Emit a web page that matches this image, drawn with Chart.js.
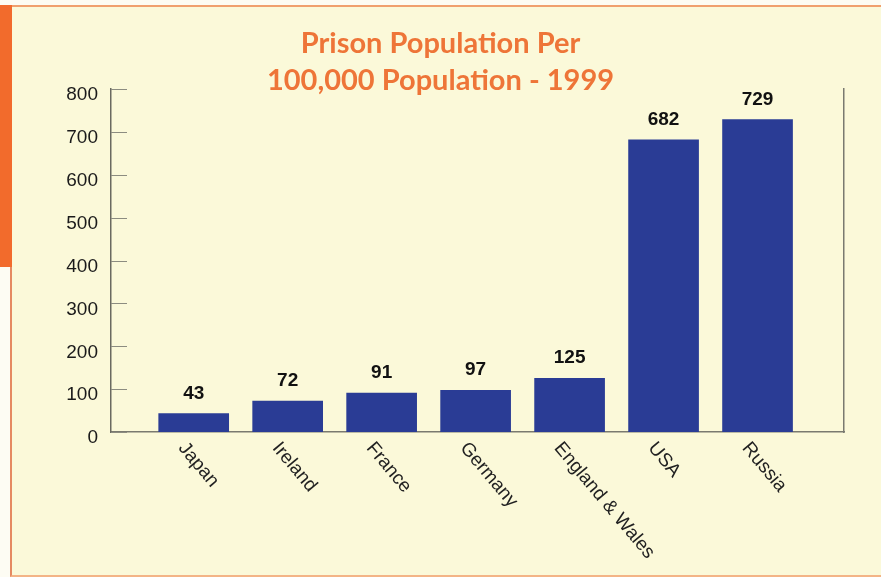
<!DOCTYPE html>
<html>
<head>
<meta charset="utf-8">
<title>Prison Population Per 100,000 Population - 1999</title>
<script src="https://cdn.jsdelivr.net/npm/chart.js@4"></script>
<style>
  html, body { margin: 0; padding: 0; background: #fdfcf3; }
  #frame { position: absolute; left: 10px; top: 5px; width: 871px; height: 572px;
           background: #fbf9d9; border-top: 2px solid #f0a06e; border-left: 2px solid #e58a62;
           border-bottom: 2px solid #f3b486; box-sizing: border-box; }
  #stripe { position: absolute; left: 0; top: 5px; width: 12px; height: 262px; background: #f26b2c; }
  #wrap { position: absolute; left: 0; top: 0; width: 881px; height: 577px; }
</style>
</head>
<body>
<div id="frame"></div>
<div id="stripe"></div>
<div id="wrap"><canvas id="mainChart" width="881" height="577"></canvas></div>
<script>
// prison population per 100,000, 1999
const categories = ['Japan', 'Ireland', 'France', 'Germany', 'England & Wales', 'USA', 'Russia'];
const prisonRates = [43, 72, 91, 97, 125, 682, 729];
const yMax = 800;
const yStep = 100;

const barColor = '#2a3c95';
const textFont = '"Liberation Sans", Arial, sans-serif';

// inner tick marks, value labels and slanted category names
const decorations = {
  id: 'decorations',
  afterDatasetsDraw(chart) {
    const ctx = chart.ctx;
    const y = chart.scales.y;
    const area = chart.chartArea;
    ctx.save();
    ctx.strokeStyle = '#8c8c80';
    ctx.lineWidth = 1;
    for (let v = 0; v <= yMax; v += yStep) {
      const py = Math.round(y.getPixelForValue(v)) + 0.5;
      ctx.beginPath();
      ctx.moveTo(area.left, py);
      ctx.lineTo(area.left + 16, py);
      ctx.stroke();
    }

    const meta = chart.getDatasetMeta(0);
    ctx.fillStyle = '#111';
    ctx.font = 'bold 19px ' + textFont;
    ctx.textAlign = 'center';
    ctx.textBaseline = 'alphabetic';
    meta.data.forEach((bar, i) => {
      ctx.fillText(String(prisonRates[i]), bar.x, bar.y - 15);
    });

    ctx.font = '19px ' + textFont;
    ctx.fillStyle = '#222';
    ctx.textAlign = 'left';
    ctx.textBaseline = 'middle';
    meta.data.forEach((bar, i) => {
      ctx.save();
      ctx.translate(bar.x - 12, area.bottom + 13);
      ctx.rotate(50 * Math.PI / 180);
      ctx.fillText(categories[i], 0, 0);
      ctx.restore();
    });
    ctx.restore();
  }
};

const ctx = document.getElementById('mainChart').getContext('2d');
window.prisonChart = new Chart(ctx, {
  type: 'bar',
  data: {
    datasets: [{
      data: prisonRates.map((v, i) => ({ x: i, y: v })),
      backgroundColor: barColor,
      barThickness: 70
    }]
  },
  options: {
    responsive: false,
    animation: false,
    layout: { padding: 0 },
    plugins: {
      legend: { display: false },
      tooltip: { enabled: false },
      title: {
        display: true,
        text: ['Prison Population Per', '100,000 Population - 1999'],
        color: '#ee7538',
        font: { family: 'Lato, "Open Sans", sans-serif', size: 29, weight: 'bold', lineHeight: 1.28 },
        padding: { top: 25, bottom: -10 }
      }
    },
    scales: {
      x: {
        type: 'linear',
        min: -0.88,
        max: 6.92,
        offset: false,
        grid: { display: false },
        border: { display: true, color: '#7a7a70', width: 1.5 },
        ticks: { display: false },
        afterFit(scale) { scale.height = 145; }
      },
      y: {
        min: 0,
        max: yMax,
        grid: { display: false },
        border: { display: true, color: '#6a6a60', width: 1.5 },
        ticks: {
          stepSize: yStep,
          color: '#1a1a1a',
          padding: 5,
          labelOffset: 6,
          font: { family: textFont, size: 19 }
        },
        afterFit(scale) { scale.width = 111; }
      },
      y2: {
        position: 'right',
        min: 0,
        max: 1,
        grid: { display: false },
        border: { display: true, color: '#7a7a70', width: 1.5 },
        ticks: { display: false },
        afterFit(scale) { scale.width = 37; }
      }
    }
  },
  plugins: [decorations]
});
</script>
</body>
</html>
